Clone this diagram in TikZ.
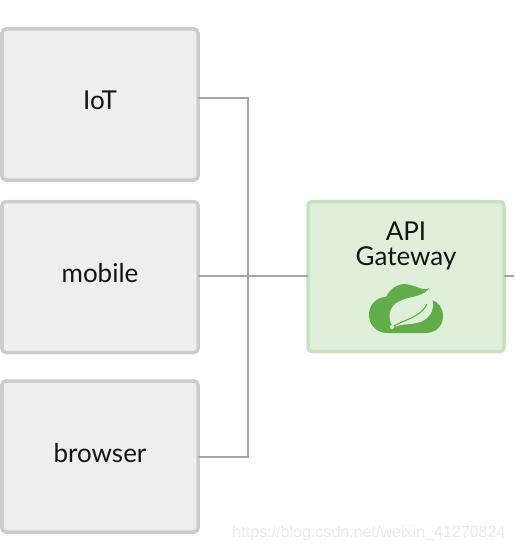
\documentclass[tikz,border=0pt]{standalone}
\usepackage{fontspec}
\setmainfont{Lato}
\newfontfamily\wmfont{Liberation Sans}
\definecolor{boxfill}{HTML}{EEEEEE}
\definecolor{boxline}{HTML}{CCCCCC}
\definecolor{gwfill}{HTML}{E0EFD9}
\definecolor{gwline}{HTML}{C5E3BD}
\definecolor{conn}{HTML}{A6A6A6}
\definecolor{leafgreen}{HTML}{61AD4A}
\definecolor{wm}{HTML}{EAEAEA}
\begin{document}
\begin{tikzpicture}[x=1pt,y=-1pt,
  card/.style={rectangle,rounded corners=4pt,line width=3.5pt,minimum width=196pt,outer sep=0pt,inner sep=0pt},
  device/.style={card,draw=boxline,fill=boxfill,minimum height=151pt},
  gateway/.style={card,draw=gwline,fill=gwfill,minimum height=150pt},
  caption/.style={font=\fontsize{26}{25}\selectfont,text=black!92,align=center},
  wire/.style={draw=conn,line width=1.6pt}]
\useasboundingbox (0,0) rectangle (514,551);
\node[device] (iot) at (100,104.5) {};
\node[device] (mobile) at (100,277) {};
\node[device] (browser) at (100,456.5) {};
\node[gateway] (gw) at (406,276.5) {};
\node[caption] (iotl) at (100,100) {IoT};
\node[caption] (mobilel) at (100,273.5) {mobile};
\node[caption] (browserl) at (100,453) {browser};
\node[caption] (gwl) at (406,245.5) {API\\Gateway};
% connectors
\coordinate (edge) at (514,276);
\coordinate (bus1) at (248,98);
\coordinate (bus2) at (248,457);
\draw[wire] (iot.east |- bus1) -- (bus1) -- (bus2) -- (browser.east |- bus2);
\draw[wire] (mobile.east |- 0,276) -- (gw.west |- 0,276);
\draw[wire] (gw.east |- 0,276) -- (edge);
% logo
\fill[leafgreen] (392,333) -- (425,333)
  .. controls (436,333) and (443,326) .. (443,316)
  .. controls (443,308) and (438,302) .. (432,300)
  -- (429,288)
  .. controls (425,292) and (415,285) .. (405,284)
  .. controls (397,284) and (390,289) .. (386,297)
  .. controls (376,297) and (369,305) .. (369,315)
  .. controls (369,325) and (377,333) .. (387,333) -- cycle;
\fill[gwfill] (393,327)
  .. controls (387,318) and (389,307) .. (398,302)
  .. controls (408,296) and (421,298) .. (429,289)
  .. controls (434,300) and (435,310) .. (428,317)
  .. controls (420,326) and (405,323) .. (397,326) -- cycle;
\draw[leafgreen,line width=1.1pt] (392,327)
  .. controls (405,319) and (420,318) .. (427,304);
\fill[gwfill] (392,327) circle (2.1);
% watermark
\node[font=\wmfont\fontsize{16.05}{18}\selectfont,text=wm,anchor=center,inner sep=0pt] (wmark) at (369,533) {https://blog.csdn.net/weixin\_41270824};
\end{tikzpicture}
\end{document}
